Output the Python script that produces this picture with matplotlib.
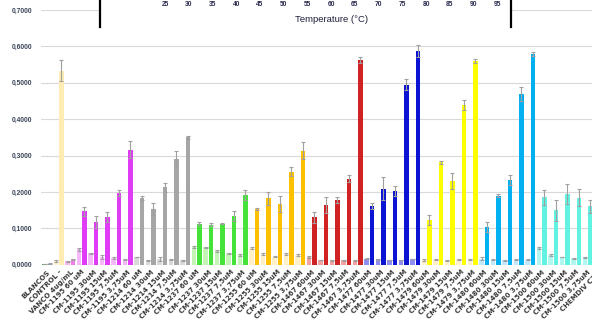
import matplotlib
matplotlib.use("Agg")
import matplotlib.pyplot as plt
import numpy as np

plt.rcParams['font.family'] = ['Liberation Sans', 'DejaVu Sans']

categories = [
    "BLANCOS", "CONTROL -", "VANCO 4ug/mL",
    "CM-1195 60 uM", "CM-1195 30uM", "CM-1195 15uM", "CM-1195 7,5uM", "CM-1195 3,75uM",
    "CM-1214 60 uM", "CM-1214 30uM", "CM-1214 15uM", "CM-1214 7,5uM", "CM-1214 3,75uM",
    "CM-1237 60 uM", "CM-1237 30uM", "CM-1237 15uM", "CM-1237 7,5uM", "CM-1237 3,75uM",
    "CM-1255 60 uM", "CM-1255 30uM", "CM-1255 15uM", "CM-1255 7,5uM", "CM-1255 3,75uM",
    "CM-1467 60uM", "CM-1467 30uM", "CM-1467 15uM", "CM-1467 7,5uM", "CM-1467 3,75uM",
    "CM-1477 60uM", "CM-1477 30uM", "CM-1477 15uM", "CM-1477 7,5uM", "CM-1477 3,75uM",
    "CM-1479 60uM", "CM-1479 30uM", "CM-1479 15uM", "CM-1479 7,5uM", "CM-1479 3,75uM",
    "CM-1480 60uM", "CM-1480 30uM", "CM-1480 15uM", "CM-1480 7,5uM", "CM-1480 3,75uM",
    "CM-1500 60uM", "CM-1500 30uM", "CM-1500 15uM", "CM-1500 7,5uM", "CM-1500 3,75uM",
    "CHEMDIV C2 1",
]

light_vals = [
    0.002, 0.010, 0.009,
    0.042, 0.031, 0.022, 0.018, 0.015,
    0.021, 0.012, 0.016, 0.015, 0.012,
    0.049, 0.048, 0.038, 0.031, 0.027,
    0.045, 0.030, 0.022, 0.029, 0.027,
    0.022, 0.013, 0.012, 0.012, 0.011,
    0.017, 0.015, 0.013, 0.013, 0.016,
    0.013, 0.015, 0.012, 0.015, 0.015,
    0.016, 0.014, 0.012, 0.014, 0.014,
    0.047, 0.027, 0.021, 0.018, 0.020,
    0.0,
]
light_err = [
    0.0005, 0.002, 0.002,
    0.003, 0.002, 0.005, 0.002, 0.001,
    0.001, 0.001, 0.005, 0.002, 0.001,
    0.003, 0.002, 0.002, 0.001, 0.002,
    0.003, 0.003, 0.002, 0.003, 0.002,
    0.003, 0.001, 0.001, 0.001, 0.001,
    0.001, 0.001, 0.001, 0.001, 0.001,
    0.003, 0.002, 0.001, 0.001, 0.002,
    0.004, 0.002, 0.001, 0.002, 0.002,
    0.003, 0.002, 0.001, 0.001, 0.001,
    0.0,
]
dark_vals = [
    0.003, 0.533, 0.015,
    0.147, 0.117, 0.131, 0.198, 0.316,
    0.183, 0.153, 0.213, 0.290, 0.350,
    0.113, 0.110, 0.113, 0.134, 0.192,
    0.154, 0.182, 0.167, 0.256, 0.313,
    0.130, 0.165, 0.177, 0.236, 0.562,
    0.162, 0.209, 0.202, 0.495, 0.587,
    0.123, 0.282, 0.231, 0.438, 0.560,
    0.103, 0.189, 0.232, 0.469, 0.579,
    0.185, 0.149, 0.194, 0.184, 0.161,
    0.0,
]
dark_err = [
    0.0005, 0.029, 0.002,
    0.012, 0.017, 0.014, 0.008, 0.024,
    0.005, 0.016, 0.012, 0.022, 0.004,
    0.005, 0.004, 0.002, 0.013, 0.013,
    0.003, 0.019, 0.022, 0.013, 0.023,
    0.016, 0.022, 0.008, 0.010, 0.009,
    0.008, 0.031, 0.014, 0.016, 0.016,
    0.014, 0.004, 0.022, 0.014, 0.006,
    0.014, 0.004, 0.014, 0.019, 0.006,
    0.021, 0.030, 0.027, 0.024, 0.018,
    0.0,
]

group_light = ["#4caf50", "#fff2cc", "#f7b6f0"] + \
    ["#f5b8fb"] * 5 + ["#d9d9d9"] * 5 + ["#c4f5b6"] * 5 + ["#fff0c8"] * 5 + \
    ["#f4a3a3"] * 5 + ["#8f8ff2"] * 5 + ["#fff0c8"] * 5 + ["#bfe9fb"] * 5 + \
    ["#b0f7f2"] * 5 + ["#b0f7f2"]
group_dark = ["#5b9bd5", "#ffecb3", "#f07ee8"] + \
    ["#e03cf5"] * 5 + ["#a6a6a6"] * 5 + ["#45e33a"] * 5 + ["#ffc000"] * 5 + \
    ["#d02222"] * 5 + ["#0a14d2"] * 5 + ["#ffff00"] * 5 + ["#00b0f0"] * 5 + \
    ["#62f2e2"] * 5 + ["#62f2e2"]

temp_ticks = [25, 30, 35, 40, 45, 50, 55, 60, 65, 70, 75, 80, 85, 90, 95]

W, H = 592, 323
fig = plt.figure(figsize=(W / 100, H / 100), dpi=100)
fig.patch.set_facecolor("white")

left_px, bottom_px, top_px = 41, 264.7, 10
xl, xr = -0.55, 48.6
scale = 11.5
width_px = (xr - xl) * scale
ax = fig.add_axes([left_px / W, (H - bottom_px) / H, width_px / W, (bottom_px - top_px) / H])

x = np.arange(len(categories))
bw = 0.39
ax.bar(x - 0.23, light_vals, bw, color=group_light, zorder=2)
ax.bar(x + 0.23, dark_vals, bw, color=group_dark, zorder=2)
ax.errorbar(x - 0.23, light_vals, yerr=light_err, fmt='none', ecolor='#a0a0a0',
            elinewidth=0.8, capsize=1.5, capthick=0.8, zorder=3)
ax.errorbar(x + 0.23, dark_vals, yerr=dark_err, fmt='none', ecolor='#a0a0a0',
            elinewidth=0.8, capsize=1.5, capthick=0.8, zorder=3)

ax.set_xlim(xl, xr)
ax.set_ylim(0, 0.7)
yt = np.arange(0, 0.71, 0.1)
ax.set_yticks(yt)
ax.set_yticklabels([f"{v:.4f}".replace(".", ",") for v in yt],
                   fontsize=4.8, fontweight='bold', color='#3a4458')
ax.yaxis.grid(True, color='#d9d9d9', lw=0.8, zorder=0)
ax.set_axisbelow(True)
for s in ax.spines.values():
    s.set_visible(False)
ax.tick_params(axis='both', length=0)
ax.tick_params(axis='y', pad=6)
ax.set_xticks(x)
ax.set_xticklabels(categories, rotation=45, ha='right', rotation_mode='anchor',
                   fontsize=5.0, fontweight='bold', color='#3a3a3a',
                   family='DejaVu Sans')
ax.tick_params(axis='x', pad=3)

# overlay panel from temperature chart
ax2 = fig.add_axes([100 / W, 1 - 27 / H, 411 / W, 0.1])
ax2.set_facecolor('white')
ax2.set_xlim(11.3, 97.9)
ax2.set_ylim(0, 1)
ax2.set_xticks([])
ax2.set_yticks([])
ax2.spines['top'].set_visible(False)
ax2.spines['bottom'].set_visible(False)
ax2.spines['left'].set_linewidth(1.6)
ax2.spines['right'].set_linewidth(1.6)
hpx = 0.1 * H
for t in temp_ticks:
    ax2.text(t, (27 - 4) / hpx, str(t), transform=ax2.get_xaxis_transform(),
             ha='center', va='center', fontsize=4.8, fontweight='bold', color='#2a2a50')
ax2.text(0.5 * (temp_ticks[0] + temp_ticks[-1]), (27 - 19) / hpx, "Temperature (°C)",
         transform=ax2.get_xaxis_transform(), ha='center', va='center',
         fontsize=6.8, color='#1e1e3c')

fig.savefig("out.png", dpi=100)
